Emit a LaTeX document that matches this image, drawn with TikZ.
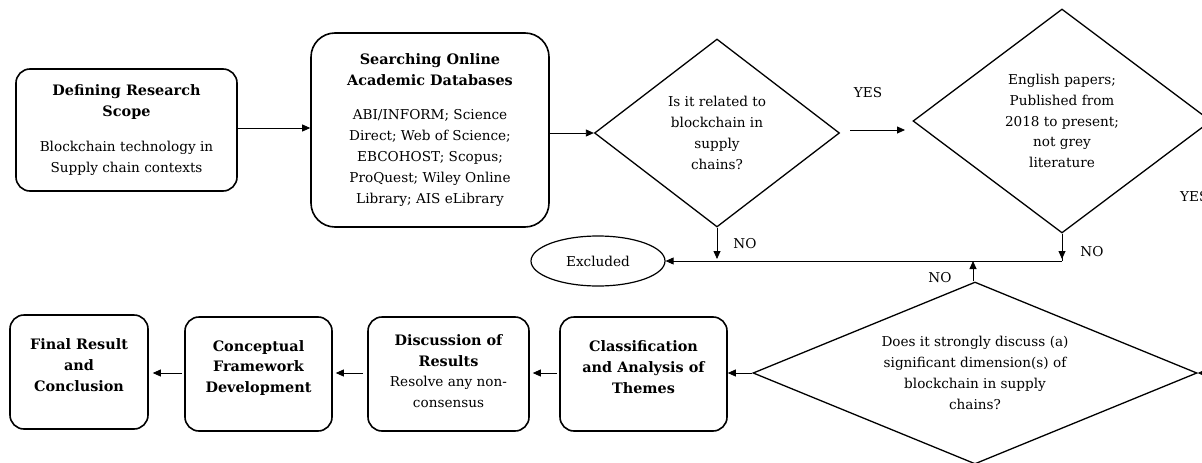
\documentclass[tikz,border=0pt]{standalone}
\usepackage{fontspec}
\setmainfont{DejaVu Serif}
\usetikzlibrary{shapes.geometric,arrows.meta,calc}
\newcommand{\hd}[1]{{\fontsize{14.4}{20.8}\selectfont\bfseries #1}}
\begin{document}
\begin{tikzpicture}[x=1pt,y=-1pt,
  every node/.style={font=\fontsize{13.6}{20.9}\selectfont},
  box/.style={draw,line width=1.6pt,rounded corners=14pt,align=center,inner sep=0pt},
  dia/.style={draw,diamond,line width=1.3pt,inner sep=0pt,align=center},
  ell/.style={draw,ellipse,line width=1.2pt,inner sep=0pt},
  arr/.style={-{Triangle[length=8pt,width=7pt]},line width=0.8pt},
  lab/.style={inner sep=0pt}]
\useasboundingbox (0,0) rectangle (1202,463);
\clip (0,0) rectangle (1202,463);
% top row
\node[box,minimum width=221,minimum height=122] (b1) at (126.5,130)
  {\hd{Defining Research}\\\hd{Scope}\\[14pt]Blockchain technology in\\Supply chain contexts};
\node[box,rounded corners=24pt,minimum width=238,minimum height=194] (b2) at (430,130)
  {\hd{Searching Online}\\\hd{Academic Databases}\\[13pt]ABI/INFORM; Science\\Direct; Web of Science;\\EBCOHOST; Scopus;\\ProQuest; Wiley Online\\Library; AIS eLibrary};
\node[dia,shape aspect=1.3,minimum width=245,minimum height=188] (d1) at (717,133)
  {Is it related to\\blockchain in\\supply\\chains?};
\node[dia,shape aspect=1.33,minimum width=298,minimum height=224] (d2) at (1062,121)
  {English papers;\\Published from\\2018 to present;\\not grey\\literature};
\node[ell,minimum width=134,minimum height=50] (ex) at (598,261) {Excluded};
% bottom row
\node[dia,shape aspect=2.44,minimum width=444,minimum height=182] (d3) at (975,373)
  {Does it strongly discuss (a)\\significant dimension(s) of\\blockchain in supply\\chains?};
\node[box,minimum width=167,minimum height=114] (cl) at (643.5,374)
  {\hd{Classification}\\\hd{and Analysis of}\\\hd{Themes}\rule[-14pt]{0pt}{0pt}};
\node[box,minimum width=161,minimum height=114] (di) at (448.5,374)
  {\hd{Discussion of}\\\hd{Results}\\Resolve any non-\\consensus\rule[-6pt]{0pt}{0pt}};
\node[box,minimum width=147,minimum height=114] (co) at (258.5,374)
  {\hd{Conceptual}\\\hd{Framework}\\\hd{Development}\rule[-15pt]{0pt}{0pt}};
\node[box,minimum width=138,minimum height=114] (fi) at (79,372)
  {\hd{Final Result}\\\hd{and}\\\hd{Conclusion}\rule[-14pt]{0pt}{0pt}};
% labels
\node[lab] (yes1) at (868,93) {YES};
\node[lab,anchor=west] (yes2) at (1180,197) {YES};
\node[lab] (no1) at (745,244) {NO};
\node[lab] (no2) at (1092,252) {NO};
\node[lab] (no3) at (940,278) {NO};
% coordinates
\coordinate (a1) at (850,130);
\coordinate (a2) at (905,130);
\coordinate (j1) at (717,259);
\coordinate (j2) at (1062,261);
\coordinate (j3) at (973,261);
\coordinate (r3) at (1220,373);
% connectors
\draw[arr] (b1.east |- 0,128) -- (b2.west |- 0,128);
\draw[arr] (b2.east |- d1.west) -- (d1.west);
\draw[arr] (a1) -- (a2);
\draw[arr] (d1.south) -- (j1);
\draw[line width=0.8pt] (d2.south) -- (j2);
\draw[arr] (d2.south) -- ($(j2)+(0,-2)$);
\draw[arr] (j2) -- (ex.east);
\draw[arr] (d3.north -| j3) -- (j3);
\draw[arr] (r3) -- (d3.east);
\draw[arr] (d3.west) -- (cl.east |- d3.west);
\draw[arr,shorten <=2pt,shorten >=3pt] (cl.west |- 0,373) -- (di.east |- 0,373);
\draw[arr,shorten <=4pt,shorten >=3pt] (di.west |- 0,373) -- (co.east |- 0,373);
\draw[arr,shorten <=2pt,shorten >=4pt] (co.west |- 0,373) -- (fi.east |- 0,373);
\end{tikzpicture}
\end{document}
